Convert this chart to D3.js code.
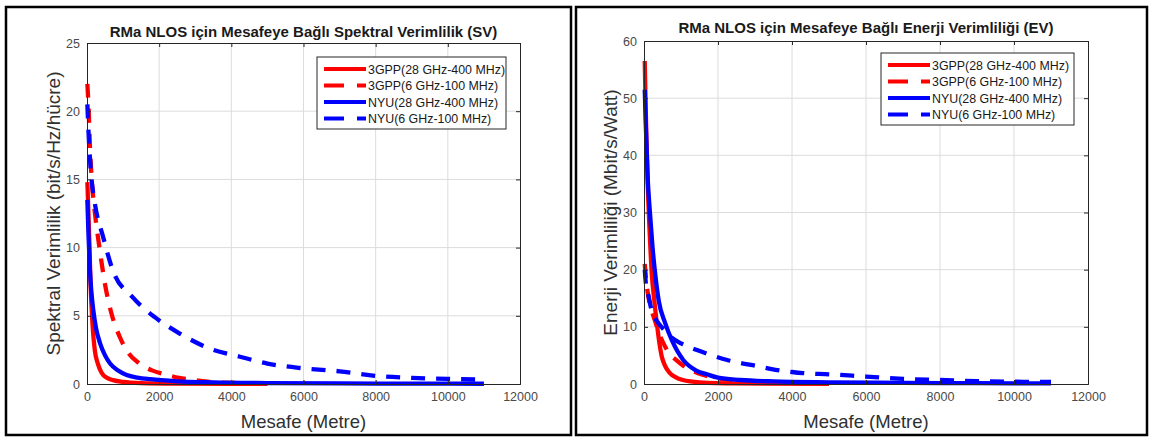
<!DOCTYPE html>
<html>
<head>
<meta charset="utf-8">
<script src="https://cdn.jsdelivr.net/npm/d3@7"></script>
<style>
  body { margin: 0; background: #fff; }
  svg { display: block; font-family: "Liberation Sans", Arial, sans-serif; }
  .grid line { stroke: #dcdcdc; stroke-width: 1; }
  .tick text { fill: #4a4a4a; font-size: 12.5px; }
</style>
</head>
<body>
<svg width="1150" height="438"></svg>
<script>
var seriesNames = ["3GPP(28 GHz-400 MHz)", "3GPP(6 GHz-100 MHz)", "NYU(28 GHz-400 MHz)", "NYU(6 GHz-100 MHz)"];
var seriesColors = ["#ff0000", "#ff0000", "#0000ff", "#0000ff"];
var seriesDashed = [false, true, false, true];

var xTicks = [0, 2000, 4000, 6000, 8000, 10000, 12000];
var svTicks = [0, 5, 10, 15, 20, 25];
var evTicks = [0, 10, 20, 30, 40, 50, 60];

// spectral efficiency, [distance m, bit/s/Hz/cell]
var sv3gpp28 = [[10,14.8],[40,12.5],[70,10],[100,7.2],[150,4.5],[220,2.4],[300,1.5],[400,0.85],[550,0.45],[720,0.28],[1000,0.15],[1500,0.07],[2500,0.03],[5000,0.01]];
var sv3gpp6 = [[10,22],[40,20.5],[80,17.5],[130,15],[200,13],[345,10],[500,7.3],[685,5.1],[900,3.5],[1140,2.3],[1450,1.5],[1800,1.0],[2200,0.68],[2550,0.45],[3000,0.28],[3400,0.15],[4200,0.07],[5000,0.03]];
var svNyu28 = [[10,13.5],[40,11],[80,8.4],[120,6.8],[175,5.4],[250,4.1],[360,3.0],[500,2.1],[640,1.5],[850,1.0],[1100,0.66],[1400,0.47],[1750,0.35],[2500,0.2],[3500,0.12],[5000,0.07],[7000,0.04],[9000,0.025],[11000,0.02]];
var svNyu6 = [[10,20.5],[50,18],[120,15.2],[220,13.2],[445,10.8],[720,8.3],[1250,6.4],[1880,4.9],[2570,3.7],[3400,2.6],[4240,2.0],[5000,1.5],[6000,1.15],[7000,0.93],[8000,0.6],[9000,0.45],[10000,0.37],[11000,0.32]];

// energy efficiency, [distance m, Mbit/s/Watt]
var ev3gpp28 = [[20,56.5],[40,50],[70,42],[100,35],[150,27],[208,19.5],[280,14.5],[350,10.5],[420,7],[480,4.8],[560,3.3],[700,1.9],[850,1.2],[1050,0.7],[1500,0.3],[2500,0.1],[5000,0.03]];
var ev3gpp6 = [[20,21],[60,18],[100,16],[140,14.5],[200,13],[300,11],[400,9],[550,6.8],[700,5.2],[850,4.3],[1000,3.5],[1200,2.6],[1500,1.8],[2000,1.0],[2500,0.6],[3000,0.35],[4000,0.15],[5000,0.07]];
var evNyu28 = [[20,51.5],[50,45],[100,36],[160,30],[230,24],[300,19.4],[400,14.5],[570,10.7],[750,7.7],[1060,4.2],[1400,2.4],[1700,1.7],[2000,1.1],[2600,0.7],[3500,0.45],[5000,0.3],[7000,0.2],[9000,0.15],[11000,0.1]];
var evNyu6 = [[20,20],[60,17],[120,15.5],[200,13],[350,11],[500,9.8],[750,8.1],[1000,7.1],[1450,5.9],[1800,5.1],[2250,4.2],[2600,3.7],[3100,3.1],[3450,2.6],[4000,2.1],[4300,1.9],[5000,1.7],[6000,1.3],[7000,0.9],[8000,0.7],[9000,0.5],[10000,0.4],[11000,0.35]];

var svg = d3.select("svg");

// outer frames of the two pictures
svg.append("rect").attr("x", 6).attr("y", 7).attr("width", 565).attr("height", 428)
    .attr("fill", "none").attr("stroke", "#000").attr("stroke-width", 2.5);
svg.append("rect").attr("x", 576).attr("y", 7).attr("width", 571).attr("height", 428)
    .attr("fill", "none").attr("stroke", "#000").attr("stroke-width", 2.5);

function drawPanel(p) {
  var x = d3.scaleLinear().domain([0, 12000]).range([p.left, p.right]);
  var y = d3.scaleLinear().domain([0, p.ymax]).range([p.bottom, p.top]);
  var g = svg.append("g");
  var h = p.bottom - p.top;

  // grid
  g.append("g").attr("class", "grid")
    .selectAll("line").data(xTicks.slice(1, -1)).enter().append("line")
      .attr("x1", function(d) { return x(d); }).attr("x2", function(d) { return x(d); })
      .attr("y1", p.top).attr("y2", p.bottom);
  g.append("g").attr("class", "grid")
    .selectAll("line").data(p.yTicks.slice(1, -1)).enter().append("line")
      .attr("x1", p.left).attr("x2", p.right)
      .attr("y1", function(d) { return y(d); }).attr("y2", function(d) { return y(d); });

  // curves
  var line = d3.line()
    .x(function(d) { return x(d[0]); })
    .y(function(d) { return y(d[1]); })
    .curve(d3.curveMonotoneX);
  p.series.forEach(function(s, i) {
    g.append("path").datum(s)
      .attr("fill", "none")
      .attr("stroke", seriesColors[i])
      .attr("stroke-width", 4.3)
      .attr("stroke-dasharray", seriesDashed[i] ? "14,11" : null)
      .attr("d", line);
  });

  // axes (box on, ticks inward)
  g.append("g").attr("transform", "translate(0," + p.bottom + ")")
    .call(d3.axisBottom(x).tickValues(xTicks).tickSize(-4).tickPadding(8).tickFormat(d3.format("d")));
  g.append("g").attr("transform", "translate(0," + p.top + ")")
    .call(d3.axisTop(x).tickValues(xTicks).tickSize(-4).tickFormat(""));
  g.append("g").attr("transform", "translate(" + p.left + ",0)")
    .call(d3.axisLeft(y).tickValues(p.yTicks).tickSize(-4).tickPadding(7));
  g.append("g").attr("transform", "translate(" + p.right + ",0)")
    .call(d3.axisRight(y).tickValues(p.yTicks).tickSize(-4).tickFormat(""));
  g.selectAll(".domain").attr("stroke", "#262626");
  g.selectAll(".tick line").attr("stroke", "#262626");

  // title and axis labels
  g.append("text").attr("x", (p.left + p.right) / 2).attr("y", p.titleY)
    .attr("text-anchor", "middle").attr("font-weight", "bold").attr("font-size", 15)
    .attr("fill", "#1a1a1a").text(p.title);
  g.append("text").attr("x", (p.left + p.right) / 2).attr("y", 428)
    .attr("text-anchor", "middle").attr("font-size", 18.5).attr("fill", "#303030")
    .text("Mesafe (Metre)");
  g.append("text")
    .attr("transform", "translate(" + p.ylabelX + "," + (p.top + h / 2) + ") rotate(-90)")
    .attr("text-anchor", "middle").attr("font-size", 19).attr("fill", "#303030")
    .text(p.ylabel);

  // legend
  var lg = g.append("g").attr("transform", "translate(" + p.legX + "," + p.legY + ")");
  lg.append("rect").attr("width", p.legW).attr("height", 72)
    .attr("fill", "#fff").attr("stroke", "#262626").attr("stroke-width", 1);
  seriesNames.forEach(function(n, i) {
    var yy = 12 + i * 16.5;
    lg.append("line").attr("x1", 7).attr("x2", 49).attr("y1", yy).attr("y2", yy)
      .attr("stroke", seriesColors[i]).attr("stroke-width", 4)
      .attr("stroke-dasharray", seriesDashed[i] ? "20,13" : null);
    lg.append("text").attr("x", 51).attr("y", yy + 4.5)
      .attr("font-size", 12.4).attr("fill", "#1a1a1a").text(n);
  });
}

drawPanel({
  left: 87, right: 520, top: 43, bottom: 384, ymax: 25, yTicks: svTicks,
  series: [sv3gpp28, sv3gpp6, svNyu28, svNyu6],
  title: "RMa NLOS için Mesafeye Bağlı Spektral Verimlilik (SV)", titleY: 37,
  ylabel: "Spektral Verimlilik (bit/s/Hz/hücre)", ylabelX: 60,
  legX: 317, legY: 57, legW: 189
});
drawPanel({
  left: 644, right: 1088, top: 41, bottom: 384, ymax: 60, yTicks: evTicks,
  series: [ev3gpp28, ev3gpp6, evNyu28, evNyu6],
  title: "RMa NLOS için Mesafeye Bağlı Enerji Verimliliği (EV)", titleY: 33,
  ylabel: "Enerji Verimliliği (Mbit/s/Watt)", ylabelX: 617,
  legX: 881, legY: 53, legW: 193
});
</script>
</body>
</html>
